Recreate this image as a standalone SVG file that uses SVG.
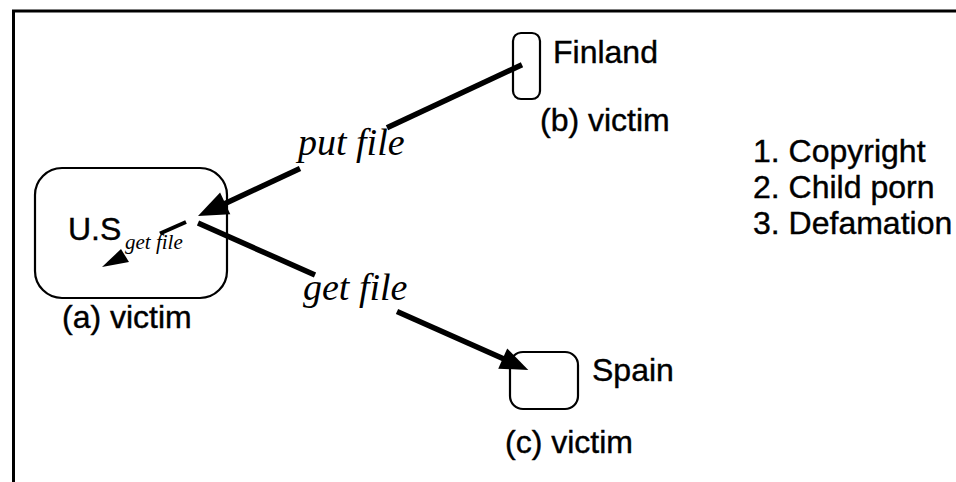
<svg xmlns="http://www.w3.org/2000/svg" width="956" height="482" viewBox="0 0 956 482">
<style>
.lbl{font-family:"Liberation Sans",Arial,sans-serif;font-size:32px;fill:#000;stroke:#000;stroke-width:0.4}
.it{font-family:"Liberation Serif","Times New Roman",serif;font-style:italic;font-size:38px;fill:#000}
.sub{font-family:"Liberation Serif","Times New Roman",serif;font-style:italic;font-size:21px;fill:#000}
.box{fill:none;stroke:#000;stroke-width:2.2}
.shaft{stroke:#000;stroke-width:5.5;stroke-linecap:butt;fill:none}
.head{fill:#000}
</style>
<rect width="956" height="482" fill="#fff"/>
<g id="frame">
<line x1="12" y1="11" x2="956" y2="11" stroke="#000" stroke-width="3"/>
<line x1="13.5" y1="10" x2="13.5" y2="482" stroke="#000" stroke-width="3"/>
</g>
<g id="node-us">
<rect class="box" x="35" y="168" width="192" height="130" rx="27"/>
<text class="lbl" x="68" y="240">U.S</text>
<text class="sub" x="125" y="249">get file</text>
<text class="lbl" x="62" y="328">(a) victim</text>
</g>
<g id="node-finland">
<rect class="box" x="513" y="33" width="27" height="66" rx="8"/>
<text class="lbl" x="553" y="63">Finland</text>
<text class="lbl" x="540" y="131">(b) victim</text>
</g>
<g id="node-spain">
<rect class="box" x="510" y="352" width="68" height="57" rx="13"/>
<text class="lbl" x="592" y="381">Spain</text>
<text class="lbl" x="505" y="453">(c) victim</text>
</g>
<g id="legend">
<text class="lbl" x="753" y="162">1. Copyright</text>
<text class="lbl" x="753" y="198">2. Child porn</text>
<text class="lbl" x="753" y="234">3. Defamation</text>
</g>
<g id="connectors">
<line class="shaft" x1="522" y1="64.7" x2="387" y2="127.7"/>
<line class="shaft" x1="300" y1="168.4" x2="224" y2="204"/>
<polygon class="head" points="198,216 220.1,192.4 230.3,214.2"/>
<text class="it" x="298" y="155">put file</text>
<line class="shaft" x1="198" y1="223" x2="315" y2="275"/>
<line class="shaft" x1="397" y1="311.6" x2="504" y2="359"/>
<polygon class="head" points="528.3,370 507.2,348.5 498.2,368.7"/>
<text class="it" x="303" y="300">get file</text>
<line x1="186" y1="222" x2="160" y2="233.5" stroke="#000" stroke-width="4"/>
<polygon class="head" points="102,267 121,249 129,262"/>
</g>
</svg>
